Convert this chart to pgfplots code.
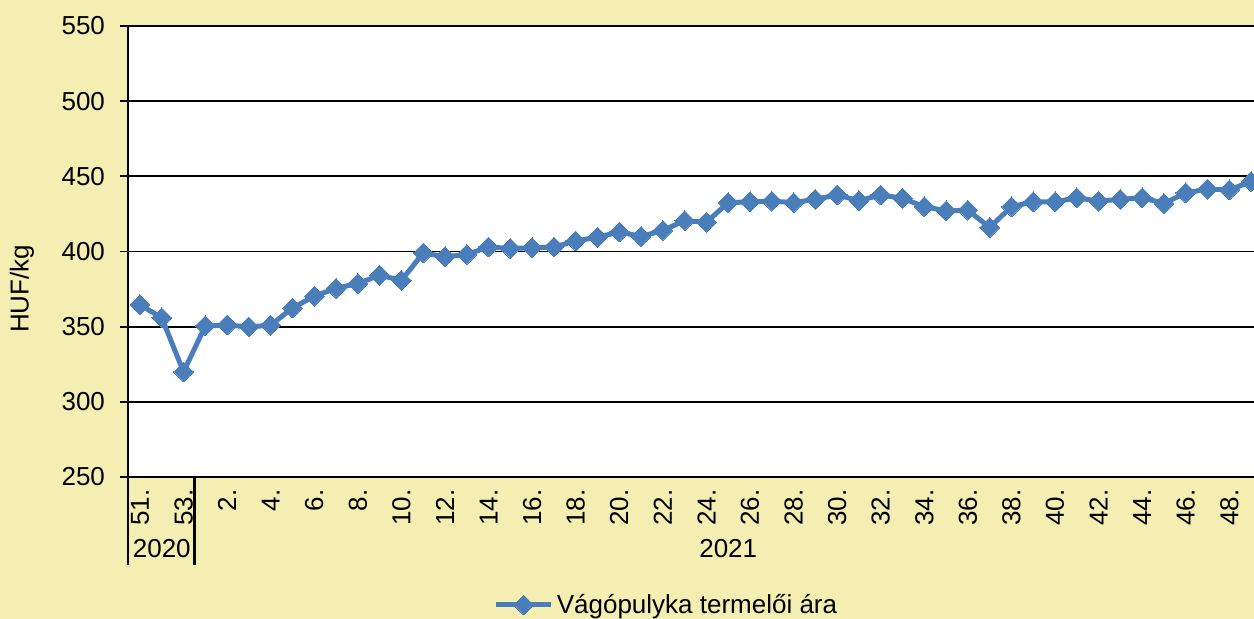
\documentclass[border=0pt]{standalone}
\usepackage{fontspec}
\setmainfont{Liberation Sans}
\usepackage{pgfplots}
\pgfplotsset{compat=1.18}
\definecolor{bgyellow}{RGB}{245,238,178}
\definecolor{lineblue}{RGB}{74,126,187}
\newcommand{\cf}{\fontsize{13}{15}\selectfont}
\begin{document}
\begin{tikzpicture}[x=1pt,y=1pt]
\useasboundingbox (0,0) rectangle (627,309.5);
\clip (0,0) rectangle (627,309.5);
\fill[bgyellow] (0,0) rectangle (627,309.5);
\begin{axis}[
  at={(64pt,71pt)}, anchor=south west,
  scale only axis, width=567pt, height=225.5pt,
  axis background/.style={fill=white},
  xmin=-0.55, xmax=51.5, ymin=250, ymax=550,
  ytick={250,300,...,550},
  xtick={0,2,...,50},
  xticklabels={51.,53.,2.,4.,6.,8.,10.,12.,14.,16.,18.,20.,22.,24.,26.,28.,30.,32.,34.,36.,38.,40.,42.,44.,46.,48.},
  axis x line*=bottom, axis y line*=left,
  axis line style={black, line width=1.1pt},
  ymajorgrids, major grid style={black, line width=0.9pt},
  tick align=outside,
  x tick style={draw=none}, xtick style={draw=none},
  y tick style={black, line width=0.9pt}, major tick length=4pt,
  /pgf/number format/assume math mode=true,
  tick label style={font=\cf},
  yticklabel style={anchor=east, xshift=-4pt},
  xticklabel style={rotate=90, anchor=east, inner sep=2pt},
  ylabel={HUF/kg},
  ylabel style={font=\cf, at={(axis description cs:-0.0935,0.417)}, anchor=center},
  clip=false,
  legend style={at={(axis description cs:0.4753,-0.2838)}, anchor=center, draw=none, fill=none,
    font=\cf, nodes={inner xsep=1.5pt}},
  legend image code/.code={\draw[#1, mark=none] (0pt,0pt) -- (27.5pt,0pt);
    \draw[#1] plot[only marks] coordinates {(13.75pt,0pt)};},
]
\addplot[color=lineblue, line width=2.5pt, mark=square*, mark size=3.5pt,
  mark options={rotate=45, fill=lineblue, draw=lineblue, line width=0pt}]
  coordinates {
  (0,364.5) (1,355.9) (2,319.9) (3,350.6) (4,351.1) (5,349.8) (6,351) (7,362.4)
  (8,370.3) (9,375.5) (10,378.7) (11,384.2) (12,380.8) (13,399) (14,396.5) (15,398)
  (16,403) (17,402) (18,402.5) (19,403) (20,407) (21,409.5) (22,413) (23,410)
  (24,414) (25,420.5) (26,419.5) (27,432.5) (28,433) (29,433.5) (30,432.5) (31,434.7)
  (32,437.6) (33,433.8) (34,437.6) (35,435.4) (36,429.8) (37,427) (38,427.5) (39,416)
  (40,429.8) (41,433) (42,433) (43,435.7) (44,433.5) (45,434.7) (46,435.7) (47,432)
  (48,439) (49,441.5) (50,441) (51,446.5)
  };
\addlegendentry{Vágópulyka termelői ára}
\draw[black, line width=1.1pt] (axis cs:-0.55,250) -- ++(0pt,-44pt);
\draw[black, line width=1.1pt] (axis cs:2.5,250) -- ++(0pt,-44pt);
\node[font=\cf] at (axis cs:1,250) [yshift=-36pt] {2020};
\node[font=\cf] at (axis cs:27,250) [yshift=-36pt] {2021};
\end{axis}
\end{tikzpicture}
\end{document}
